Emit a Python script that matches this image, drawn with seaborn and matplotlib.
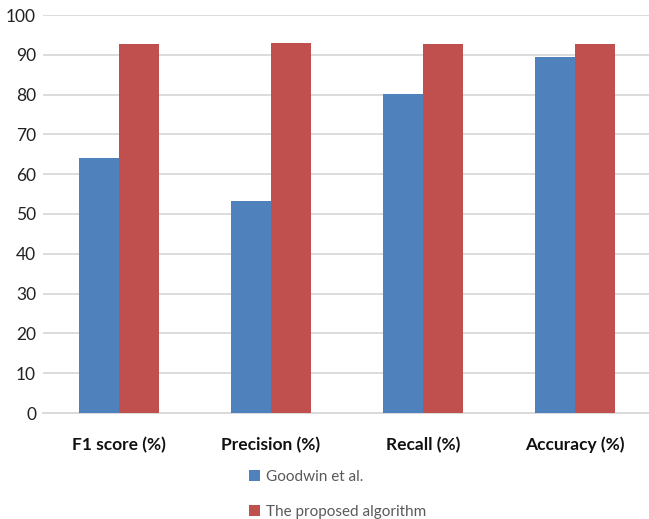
import matplotlib
matplotlib.use("Agg")
import matplotlib.pyplot as plt
from matplotlib.patches import Patch
import seaborn as sns
import pandas as pd

metrics = ["F1 score (%)", "Precision (%)", "Recall (%)", "Accuracy (%)"]
goodwin = [64.1, 53.3, 80.2, 89.4]
proposed = [92.7, 93.0, 92.7, 92.7]
series_names = ["Goodwin et al.", "The proposed algorithm"]
colors = ["#4F81BD", "#C0504D"]

df = pd.DataFrame({
    "metric": metrics * 2,
    "value": goodwin + proposed,
    "method": [series_names[0]] * 4 + [series_names[1]] * 4,
})

sns.set_theme(style="white")
plt.rcParams["font.family"] = ["Lato", "DejaVu Sans"]

fig = plt.figure(figsize=(6.49, 5.19), dpi=100)
ax = fig.add_axes([43 / 649, 106 / 519, 608 / 649, 398 / 519])

sns.barplot(data=df, x="metric", y="value", hue="method", order=metrics,
            hue_order=series_names, palette=colors, width=0.53,
            saturation=1, legend=False, linewidth=0, edgecolor="none",
            ax=ax, zorder=3)

ax.set_ylim(0, 100)
ax.set_xlim(-0.5, 3.5)
ax.set_yticks(range(0, 101, 10))
ax.yaxis.grid(True, color="#D9D9D9", linewidth=1.3, zorder=0)
ax.set_axisbelow(True)
for side in ["top", "right", "left"]:
    ax.spines[side].set_visible(False)
ax.spines["bottom"].set_color("#D9D9D9")
ax.spines["bottom"].set_linewidth(1.3)
ax.set_xlabel("")
ax.set_ylabel("")
ax.tick_params(axis="y", length=0, pad=5, labelsize=12.5, labelcolor="#222222")
ax.tick_params(axis="x", length=0, pad=17, labelsize=12.5, labelcolor="#111111")
for lbl in ax.get_xticklabels():
    lbl.set_fontweight("bold")

handles = [Patch(facecolor=c, edgecolor="none") for c in colors]
fig.legend(handles, series_names, loc="upper left",
           bbox_to_anchor=(249 / 649, 1 - 470 / 519), frameon=False,
           fontsize=11, labelcolor="#595959", handlelength=0.7,
           handleheight=0.7, handletextpad=0.4, labelspacing=1.35,
           borderpad=0, borderaxespad=0)

fig.savefig("out.png", dpi=100)
